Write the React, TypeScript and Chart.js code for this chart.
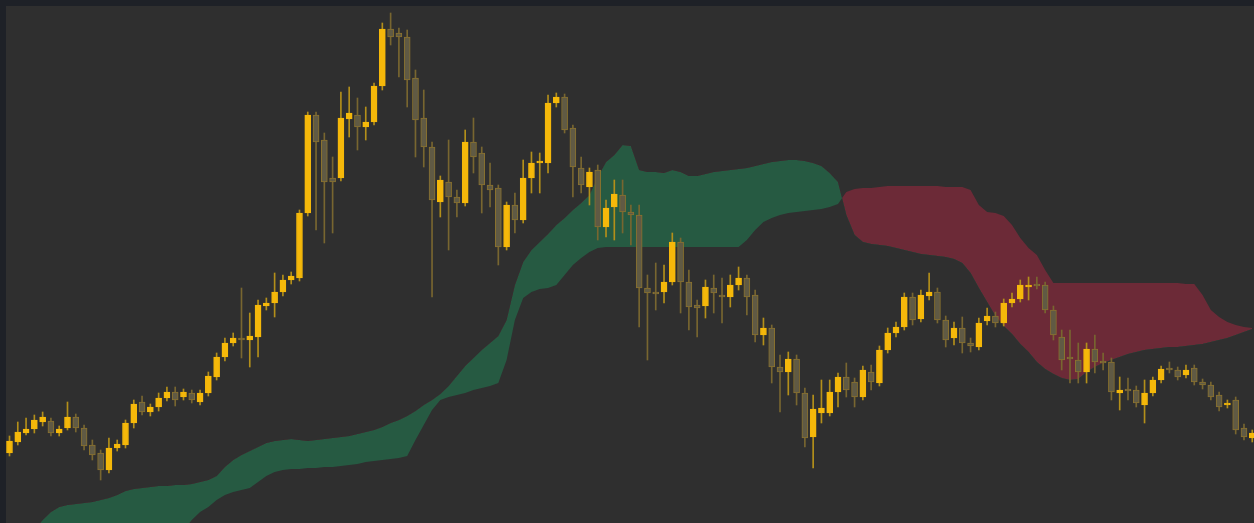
import React, { useEffect, useRef } from "react";
import { Chart, registerables } from "chart.js";

Chart.register(...registerables);

// OHLC candles (price units)
const openP = [
  70, 81, 90, 94, 101, 102, 90, 95, 106, 95,
  78, 70, 53, 75, 78, 100, 121, 111, 116, 125,
  131, 126, 130, 121, 130, 146, 166, 180, 185, 183,
  186, 217, 220, 231, 243, 245, 310, 408, 383, 345,
  345, 404, 408, 396, 401, 437, 494, 490, 486, 445,
  405, 376, 321, 341, 326, 320, 381, 370, 338, 335,
  276, 318, 303, 345, 360, 360, 420, 426, 395, 355,
  336, 353, 296, 316, 328, 311, 308, 235, 231, 231,
  241, 281, 241, 218, 217, 235, 227, 226, 238, 245,
  228, 188, 195, 156, 151, 164, 130, 86, 110, 110,
  131, 146, 141, 126, 151, 140, 173, 190, 196, 226,
  204, 227, 231, 203, 185, 195, 180, 176, 202, 207,
  200, 220, 224, 236, 238, 238, 213, 186, 165, 163,
  151, 174, 161, 161, 130, 133, 133, 118, 130, 143,
  155, 153, 148, 155, 141, 138, 128, 118, 123, 95,
  85,
];
const closeP = [
  82, 91, 94, 103, 106, 90, 94, 106, 95, 77,
  68, 53, 75, 79, 100, 119, 111, 116, 125, 131,
  123, 131, 123, 130, 147, 166, 180, 185, 183, 187,
  218, 220, 231, 243, 247, 310, 408, 381, 341, 341,
  405, 410, 396, 401, 437, 494, 486, 486, 443, 403,
  376, 323, 343, 326, 320, 381, 366, 338, 333, 276,
  318, 303, 345, 360, 362, 420, 426, 393, 356, 338,
  351, 296, 315, 329, 311, 308, 235, 230, 229, 241,
  281, 241, 216, 215, 236, 230, 226, 238, 245, 226,
  188, 195, 156, 151, 164, 130, 85, 114, 115, 131,
  146, 133, 126, 153, 141, 173, 190, 196, 226, 203,
  228, 231, 203, 183, 195, 180, 177, 200, 207, 200,
  220, 224, 238, 238, 237, 213, 188, 163, 164, 151,
  174, 161, 160, 131, 133, 132, 120, 130, 143, 154,
  153, 146, 153, 141, 138, 126, 116, 120, 93, 86,
  90,
];
const highP = [
  87, 101, 105, 108, 111, 105, 97, 121, 109, 98,
  83, 73, 85, 83, 103, 123, 127, 119, 130, 136,
  136, 134, 133, 133, 151, 170, 185, 190, 235, 210,
  223, 225, 250, 248, 251, 313, 411, 411, 390, 366,
  431, 436, 425, 416, 440, 500, 510, 495, 493, 453,
  433, 381, 347, 383, 333, 393, 405, 376, 360, 338,
  321, 330, 363, 371, 370, 428, 430, 429, 398, 366,
  355, 358, 323, 343, 343, 318, 318, 248, 260, 258,
  290, 285, 253, 223, 243, 248, 245, 248, 256, 248,
  233, 205, 198, 168, 171, 168, 135, 128, 143, 143,
  150, 160, 145, 157, 158, 177, 195, 201, 230, 230,
  233, 250, 235, 207, 201, 206, 185, 205, 215, 211,
  224, 230, 243, 246, 246, 241, 217, 193, 193, 180,
  180, 188, 170, 165, 146, 145, 137, 143, 146, 157,
  161, 156, 158, 158, 144, 141, 131, 123, 126, 99,
  93,
];
const lowP = [
  67, 78, 88, 90, 97, 87, 87, 93, 91, 73,
  63, 43, 50, 72, 75, 95, 108, 107, 112, 122,
  117, 123, 120, 118, 127, 143, 162, 177, 165, 156,
  166, 213, 206, 227, 239, 242, 307, 293, 280, 290,
  342, 386, 373, 383, 398, 433, 478, 446, 416, 366,
  356, 226, 306, 273, 306, 317, 350, 310, 316, 258,
  273, 290, 300, 330, 330, 350, 416, 390, 326, 330,
  318, 283, 286, 283, 290, 278, 196, 163, 213, 220,
  238, 210, 193, 186, 205, 210, 200, 216, 233, 208,
  181, 178, 140, 111, 128, 118, 76, 55, 100, 107,
  116, 126, 116, 123, 133, 137, 170, 186, 193, 198,
  201, 223, 200, 176, 178, 170, 171, 173, 198, 196,
  197, 216, 221, 223, 234, 210, 183, 153, 140, 140,
  140, 150, 153, 123, 113, 123, 116, 100, 127, 140,
  150, 143, 145, 138, 134, 123, 112, 115, 89, 83,
  81,
];

// Ichimoku cloud spans (plotted shifted, same x positions)
const spanA = [
  -33, -25, -17, -7, 3, 11, 16, 18, 19, 20,
  21, 23, 25, 28, 32, 34, 35, 36, 37, 37,
  38, 38, 39, 41, 43, 47, 56, 63, 68, 72,
  76, 80, 82, 83, 84, 83, 82, 83, 84, 85,
  86, 87, 89, 91, 93, 96, 100, 103, 107, 112,
  118, 123, 129, 137, 147, 157, 165, 173, 180, 187,
  203, 238, 261, 273, 281, 289, 298, 305, 313, 320,
  328, 346, 361, 368, 378, 377, 353, 351, 351, 350,
  353, 351, 347, 347, 349, 351, 352, 353, 354, 355,
  357, 359, 361, 362, 363, 363, 362, 360, 357, 350,
  341, 308, 288, 281, 279, 278, 277, 275, 273, 271,
  269, 268, 267, 266, 264, 260, 250, 235, 221, 207,
  197, 189, 179, 171, 161, 154, 149, 145, 143, 144,
  151, 156, 160, 163, 166, 169, 171, 173, 174, 175,
  176, 176, 177, 178, 179, 181, 183, 185, 188, 191,
  194,
];
const spanB = [
  -77, -75, -73, -71, -69, -67, -65, -63, -61, -59,
  -57, -54, -51, -48, -45, -42, -37, -32, -27, -22,
  -17, -7, 3, 11, 16, 23, 28, 31, 33, 35,
  41, 47, 51, 53, 54, 54, 55, 55, 56, 56,
  57, 58, 59, 61, 62, 63, 64, 65, 67, 83,
  98, 113, 123, 126, 128, 130, 133, 135, 137, 140,
  163, 203, 225, 231, 234, 235, 238, 248, 258, 265,
  271, 275, 276, 276, 276, 276, 276, 276, 276, 276,
  276, 276, 276, 276, 276, 276, 276, 276, 276, 283,
  293, 301, 305, 308, 310, 311, 312, 313, 314, 316,
  319, 331, 334, 335, 335, 336, 337, 337, 337, 337,
  337, 337, 337, 336, 336, 336, 333, 318, 311, 310,
  307, 298, 285, 275, 268, 253, 240, 240, 240, 240,
  240, 240, 240, 240, 240, 240, 240, 240, 240, 240,
  240, 240, 239, 239, 228, 213, 206, 201, 198, 196,
  195,
];

const UP_BODY = "#f5b80a";
const UP_WICK = "#b38f1a";
const DN_BODY = "rgb(96,90,68)";
const DN_BORDER = "rgb(138,114,46)";
const DN_WICK = "rgb(120,102,48)";
const CLOUD_GREEN = "rgb(38,90,66)";
const CLOUD_RED = "rgb(108,42,55)";

export default function App() {
  const ref = useRef<HTMLCanvasElement>(null);

  useEffect(() => {
    const idx = openP.map((_, i) => i);
    const up = idx.map((i) => closeP[i] >= openP[i]);
    const chart = new Chart(ref.current as HTMLCanvasElement, {
      type: "bar",
      data: {
        datasets: [
          {
            type: "line",
            label: "Senkou A",
            data: idx.map((i) => ({ x: i, y: spanA[i] })),
            borderWidth: 0,
            borderColor: "transparent",
            pointRadius: 0,
            fill: false,
            tension: 0,
            order: 10,
          } as any,
          {
            type: "line",
            label: "Senkou B",
            data: idx.map((i) => ({ x: i, y: spanB[i] })),
            borderWidth: 0,
            borderColor: "transparent",
            pointRadius: 0,
            fill: { target: "-1", above: CLOUD_RED, below: CLOUD_GREEN },
            tension: 0,
            order: 9,
          } as any,
          {
            type: "bar",
            label: "wick",
            data: idx.map((i) => ({ x: i, y: [lowP[i], highP[i]] })),
            backgroundColor: idx.map((i) => (up[i] ? UP_WICK : DN_WICK)),
            barThickness: 1,
            grouped: false,
            borderSkipped: false,
            order: 2,
          } as any,
          {
            type: "bar",
            label: "body",
            data: idx.map((i) => ({ x: i, y: [openP[i], closeP[i]] })),
            backgroundColor: idx.map((i) => (up[i] ? UP_BODY : DN_BODY)),
            borderColor: idx.map((i) => (up[i] ? UP_BODY : DN_BORDER)),
            borderWidth: 1,
            borderSkipped: false,
            barThickness: 6,
            minBarLength: 2,
            grouped: false,
            order: 1,
          } as any,
        ],
      },
      options: {
        animation: false,
        responsive: true,
        maintainAspectRatio: false,
        events: [],
        layout: { padding: 0 },
        plugins: { legend: { display: false }, tooltip: { enabled: false } },
        scales: {
          x: { type: "linear", min: -0.4225, max: 150.21, display: false, offset: false },
          y: { type: "linear", min: 0, max: 517, display: false },
        },
      } as any,
    });
    return () => chart.destroy();
  }, []);

  return (
    <div
      style={{
        position: "fixed",
        left: 0,
        top: 0,
        width: 1254,
        height: 523,
        background: "#1e2127",
      }}
    >
      <div
        style={{
          position: "absolute",
          left: 6,
          top: 6,
          width: 1248,
          height: 517,
          background: "#2f2f2f",
        }}
      >
        <canvas ref={ref} />
      </div>
    </div>
  );
}
